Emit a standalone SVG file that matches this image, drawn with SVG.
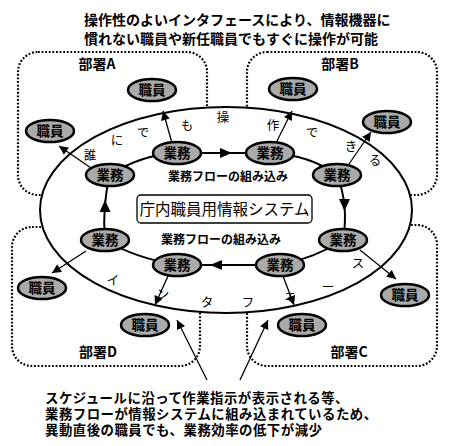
<svg xmlns="http://www.w3.org/2000/svg" width="450" height="446" viewBox="0 0 450 446">
<style>
  text { font-family: "Noto Sans CJK JP", "Noto Sans", sans-serif; fill: #000; }
  .title { font-size: 14px; font-weight: bold; }
  .note { font-size: 13.4px; font-weight: bold; letter-spacing: 0.5px; }
  .dept { fill: none; stroke: #000; stroke-width: 2.2; stroke-dasharray: 1.8 1.8; }
  .dlabel { font-size: 14px; font-weight: bold; text-anchor: middle; }
  .node { fill: #aaaaaa; stroke: #000; stroke-width: 2.5; }
  .ntext { font-size: 13.5px; font-weight: bold; text-anchor: middle; }
  .spoke { stroke: #000; stroke-width: 1.3; fill: none; marker-end: url(#ah); }
  .ring { stroke: #000; stroke-width: 2; fill: none; }
  .head { fill: #000; }
  .arc { font-size: 12.5px; text-anchor: middle; }
  .flow { font-size: 12px; font-weight: bold; text-anchor: middle; }
</style>
<defs>
  <marker id="ah" viewBox="0 0 10 10" refX="10" refY="5" markerWidth="11" markerHeight="9" markerUnits="userSpaceOnUse" orient="auto">
    <path d="M0,0 L10,5 L0,10 z" fill="#000"/>
  </marker>
</defs>
<rect width="450" height="446" fill="#fff"/>

<g id="title">
  <text class="title" x="84" y="25">操作性のよいインタフェースにより、情報機器に</text>
  <text class="title" x="84" y="44">慣れない職員や新任職員でもすぐに操作が可能</text>
</g>

<g id="departments">
  <g id="dept-A"><rect class="dept" x="18" y="52" width="189" height="143" rx="20"/></g>
  <g id="dept-B"><rect class="dept" x="247" y="52" width="190" height="143" rx="20"/></g>
  <g id="dept-D"><rect class="dept" x="12" y="227" width="188" height="139" rx="20"/></g>
  <g id="dept-C"><rect class="dept" x="247" y="225" width="190" height="141" rx="20"/></g>
</g>

<g id="interface">
  <ellipse cx="226" cy="210" rx="186" ry="103" fill="#fff" stroke="#000" stroke-width="2"/>
</g>

<g id="dept-labels">
  <text class="dlabel" x="97" y="69">部署A</text>
  <text class="dlabel" x="340" y="69">部署B</text>
  <text class="dlabel" x="98" y="357">部署D</text>
  <text class="dlabel" x="349" y="357">部署C</text>
</g>

<g id="arc-text">
  <text class="arc" x="90" y="160">誰</text>
  <text class="arc" x="117" y="145">に</text>
  <text class="arc" x="143" y="137">で</text>
  <text class="arc" x="187" y="130">も</text>
  <text class="arc" x="223" y="122">操</text>
  <text class="arc" x="273" y="130">作</text>
  <text class="arc" x="312" y="137">で</text>
  <text class="arc" x="351" y="151">き</text>
  <text class="arc" x="375" y="165">る</text>
  <text class="arc" x="113" y="285">イ</text>
  <text class="arc" x="163" y="299">ン</text>
  <text class="arc" x="207" y="307">タ</text>
  <text class="arc" x="248" y="307">フ</text>
  <text class="arc" x="290" y="300">ェ</text>
  <text class="arc" x="328" y="292">ー</text>
  <text class="arc" x="358" y="268">ス</text>
</g>

<g id="connectors">
  <path class="ring" d="M110,175 Q140,155 177,153 L270,153 Q310,155 337,175 Q349,205 343,240 Q315,258 280,265 L177,265 Q135,258 105,240 Q102,205 110,175 Z"/>
  <polygon class="head" points="220,148 232,153 220,158"/>
  <polygon class="head" points="339,199 350,199 344.5,211"/>
  <polygon class="head" points="222,260 210,265 222,270"/>
  <polygon class="head" points="99.5,212 110.5,212 105,200"/>
  <line class="spoke" x1="172" y1="143" x2="163" y2="111"/>
  <line class="spoke" x1="276" y1="143" x2="292" y2="111"/>
  <line class="spoke" x1="349" y1="164" x2="371" y2="132"/>
  <line class="spoke" x1="91" y1="168" x2="59" y2="146"/>
  <line class="spoke" x1="86" y1="251" x2="52" y2="273"/>
  <line class="spoke" x1="168" y1="276" x2="155" y2="305"/>
  <line class="spoke" x1="283" y1="276" x2="294" y2="305"/>
  <line class="spoke" x1="360" y1="250" x2="396" y2="279"/>
  <line class="spoke" x1="207" y1="380" x2="177" y2="320"/>
  <line class="spoke" x1="240" y1="380" x2="268" y2="320"/>
</g>

<g id="system">
  <rect x="137" y="195" width="175" height="28" rx="4" fill="#fff" stroke="#000" stroke-width="1.3"/>
  <text x="224.5" y="215" font-size="15.5" text-anchor="middle">庁内職員用情報システム</text>
</g>

<g id="flow-labels">
  <text class="flow" x="228" y="181">業務フローの組み込み</text>
  <text class="flow" x="221" y="244">業務フローの組み込み</text>
</g>

<g id="task-1"><ellipse class="node" cx="177" cy="153" rx="24" ry="11"/><text class="ntext" x="177" y="158">業務</text></g>
<g id="task-2"><ellipse class="node" cx="270" cy="153" rx="24" ry="11"/><text class="ntext" x="270" y="158">業務</text></g>
<g id="task-3"><ellipse class="node" cx="337" cy="175" rx="24" ry="11"/><text class="ntext" x="337" y="180">業務</text></g>
<g id="task-4"><ellipse class="node" cx="343" cy="240" rx="24" ry="11"/><text class="ntext" x="343" y="245">業務</text></g>
<g id="task-5"><ellipse class="node" cx="280" cy="265" rx="24" ry="11"/><text class="ntext" x="280" y="270">業務</text></g>
<g id="task-6"><ellipse class="node" cx="177" cy="265" rx="24" ry="11"/><text class="ntext" x="177" y="270">業務</text></g>
<g id="task-7"><ellipse class="node" cx="105" cy="240" rx="24" ry="11"/><text class="ntext" x="105" y="245">業務</text></g>
<g id="task-8"><ellipse class="node" cx="110" cy="175" rx="24" ry="11"/><text class="ntext" x="110" y="180">業務</text></g>

<g id="staff-A1"><ellipse class="node" cx="152" cy="90" rx="24" ry="11"/><text class="ntext" x="152" y="95">職員</text></g>
<g id="staff-A2"><ellipse class="node" cx="50" cy="131" rx="24" ry="11"/><text class="ntext" x="50" y="136">職員</text></g>
<g id="staff-B1"><ellipse class="node" cx="293" cy="89" rx="24" ry="11"/><text class="ntext" x="293" y="94">職員</text></g>
<g id="staff-B2"><ellipse class="node" cx="387" cy="122" rx="24" ry="11"/><text class="ntext" x="387" y="127">職員</text></g>
<g id="staff-D1"><ellipse class="node" cx="42" cy="288" rx="24" ry="11"/><text class="ntext" x="42" y="293">職員</text></g>
<g id="staff-D2"><ellipse class="node" cx="145" cy="325" rx="24" ry="11"/><text class="ntext" x="145" y="330">職員</text></g>
<g id="staff-C1"><ellipse class="node" cx="302" cy="325" rx="24" ry="11"/><text class="ntext" x="302" y="330">職員</text></g>
<g id="staff-C2"><ellipse class="node" cx="405" cy="295" rx="24" ry="11"/><text class="ntext" x="405" y="300">職員</text></g>

<g id="note">
  <text class="note" x="45" y="403">スケジュールに沿って作業指示が表示される等、</text>
  <text class="note" x="45" y="419">業務フローが情報システムに組み込まれているため、</text>
  <text class="note" x="45" y="435">異動直後の職員でも、業務効率の低下が減少</text>
</g>
</svg>
